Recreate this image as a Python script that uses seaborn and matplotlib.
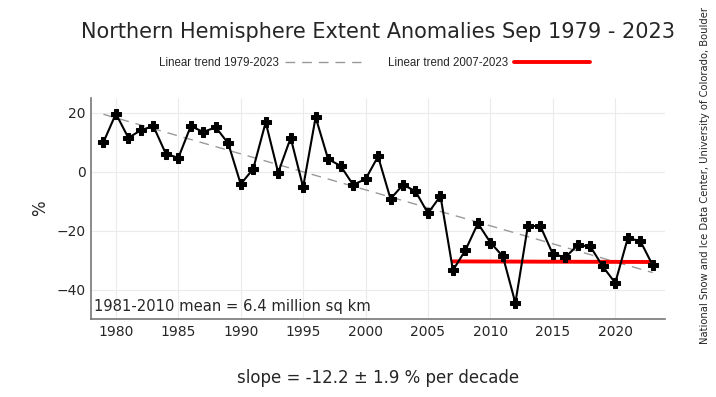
import numpy as np
import pandas as pd
import matplotlib
matplotlib.use('Agg')
import matplotlib.pyplot as plt
import seaborn as sns

# September extent anomalies (%)
years = list(range(1979, 2024))
anomaly = [10.0, 19.7, 11.5, 14.1, 15.5, 6.1, 4.7, 15.5, 13.5, 15.1,
           9.6, -4.2, 1.0, 16.8, -0.3, 11.5, -5.2, 18.5, 4.3, 2.0,
           -4.4, -2.5, 5.2, -9.2, -4.4, -6.6, -14.1, -8.2, -33.4, -26.6,
           -17.5, -24.0, -28.7, -44.5, -18.4, -18.4, -27.9, -29.0, -24.9, -25.3,
           -32.1, -37.7, -22.6, -23.4, -31.7]

trend_all_years = [1979, 2023]
trend_all_values = [19.5, -34.2]
trend_recent_years = [2007, 2023]
trend_recent_values = [-30.4, -30.6]

title = 'Northern Hemisphere Extent Anomalies Sep 1979 - 2023'
slope_text = 'slope = -12.2 \u00b1 1.9 % per decade'
mean_text = '1981-2010 mean = 6.4 million sq km'
credit = 'National Snow and Ice Data Center, University of Colorado, Boulder'

df = pd.DataFrame({'year': years, 'anomaly': anomaly})

sns.set_style('whitegrid', {'grid.color': '#ebebeb', 'axes.edgecolor': '#777777'})
fig = plt.figure(figsize=(7.16, 3.97), dpi=100)
ax = fig.add_axes([0.127, 0.196, 0.802, 0.557])

sns.lineplot(x=trend_all_years, y=trend_all_values, ax=ax, color='#999999',
             lw=1, dashes=False, label='Linear trend 1979-2023')
ax.lines[-1].set_dashes([7, 5])
sns.lineplot(x=trend_recent_years, y=trend_recent_values, ax=ax, color='red',
             lw=2.8, label='Linear trend 2007-2023')
sns.lineplot(data=df, x='year', y='anomaly', ax=ax, color='black', lw=1.5,
             marker='P', markersize=6.5, markeredgecolor='black', legend=False)

ax.set_xlim(1978, 2024)
ax.set_ylim(-50, 25)
ax.set_xticks(range(1980, 2021, 5))
ax.set_yticks([-40, -20, 0, 20])
ax.tick_params(labelsize=10, length=0, pad=4)
for side in ['top', 'right']:
    ax.spines[side].set_visible(False)
for side in ['left', 'bottom']:
    ax.spines[side].set_linewidth(1.2)

ax.set_xlabel(slope_text, fontsize=12, labelpad=22)
ax.set_ylabel('%', fontsize=12, labelpad=5)
ax.text(0.005, 0.025, mean_text, transform=ax.transAxes, fontsize=10.6,
        ha='left', va='bottom')

fig.text(0.528, 0.92, title, ha='center', va='center', fontsize=15)
fig.text(0.984, 0.557, credit, rotation=90, ha='center', va='center', fontsize=7.2)

leg = ax.legend(loc='center', bbox_to_anchor=(0.494, 1.16), ncol=2, frameon=False,
                markerfirst=False, handlelength=6.6, handletextpad=0.5,
                columnspacing=2.4,
                prop={'family': 'Liberation Sans', 'size': 8.3})

fig.savefig('out.png', dpi=100)
